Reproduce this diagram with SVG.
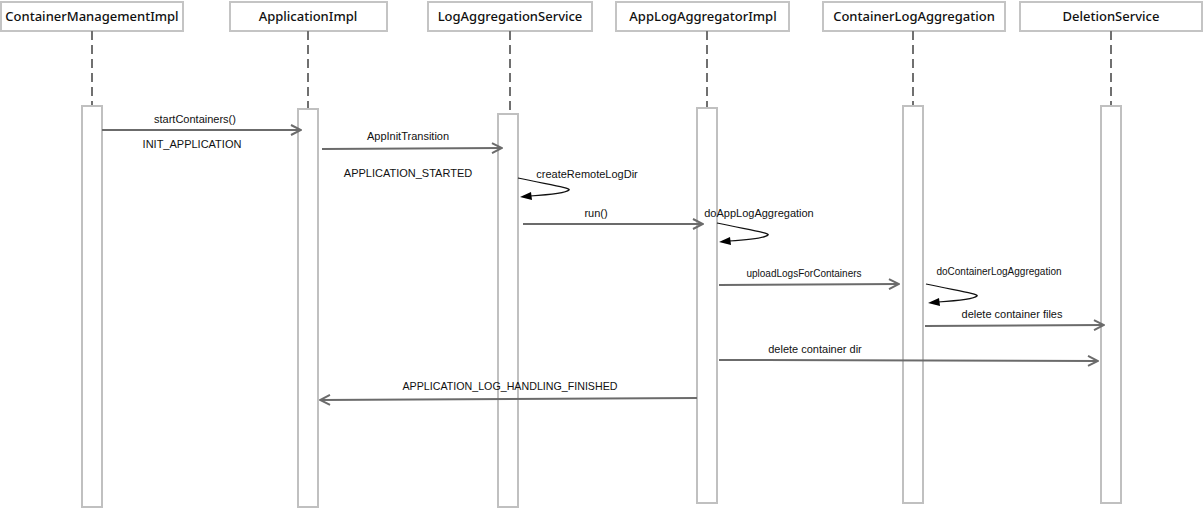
<svg xmlns="http://www.w3.org/2000/svg" width="1203" height="509" viewBox="0 0 1203 509">
<style>
.hdr{fill:#fff;stroke:#c4c4c4;stroke-width:2}
.ht{font-family:"Noto Sans","Open Sans",sans-serif;font-weight:500;font-size:13px;fill:#111;text-anchor:middle}
.life{stroke:#707070;stroke-width:2;stroke-dasharray:9 5}
.act{fill:#fff;stroke:#c0c0c0;stroke-width:2}
.msg{stroke:#6b6b6b;stroke-width:2;fill:none}
.self{stroke:#111;stroke-width:1.2;fill:none}
.head{fill:#000}
.lbl{font-family:"Liberation Sans",Arial,sans-serif;font-size:11px;fill:#111;text-anchor:middle}
.sm{font-size:10px}
</style>
<defs>
<marker id="open" viewBox="0 0 12 12" refX="11" refY="6" markerWidth="12" markerHeight="12" markerUnits="userSpaceOnUse" orient="auto">
<path d="M1,1 L11,6 L1,11" fill="none" stroke="#6b6b6b" stroke-width="2"/>
</marker>
</defs>

<g id="ContainerManagementImpl">
<rect class="hdr" x="1" y="2" width="182" height="29"/>
<text class="ht" x="92" y="21">ContainerManagementImpl</text>
<line class="life" x1="92" y1="31" x2="92" y2="105"/>
<rect class="act" x="82" y="106" width="20" height="401"/>
</g>
<g id="ApplicationImpl">
<rect class="hdr" x="230" y="2" width="157" height="29"/>
<text class="ht" x="308" y="21">ApplicationImpl</text>
<line class="life" x1="308" y1="31" x2="308" y2="108"/>
<rect class="act" x="298" y="109" width="20" height="398"/>
</g>
<g id="LogAggregationService">
<rect class="hdr" x="428" y="2" width="164" height="29"/>
<text class="ht" x="510" y="21">LogAggregationService</text>
<line class="life" x1="510" y1="31" x2="510" y2="113"/>
<rect class="act" x="498" y="114" width="20" height="393"/>
</g>
<g id="AppLogAggregatorImpl">
<rect class="hdr" x="616" y="2" width="173" height="29"/>
<text class="ht" x="703" y="21">AppLogAggregatorImpl</text>
<line class="life" x1="707" y1="31" x2="707" y2="107"/>
<rect class="act" x="697" y="108" width="20" height="395"/>
</g>
<g id="ContainerLogAggregation">
<rect class="hdr" x="823" y="2" width="182" height="29"/>
<text class="ht" x="914" y="21">ContainerLogAggregation</text>
<line class="life" x1="913" y1="31" x2="913" y2="105"/>
<rect class="act" x="903" y="106" width="20" height="397"/>
</g>
<g id="DeletionService">
<rect class="hdr" x="1020" y="2" width="182" height="29"/>
<text class="ht" x="1111" y="21">DeletionService</text>
<line class="life" x1="1111" y1="31" x2="1111" y2="105"/>
<rect class="act" x="1101" y="106" width="20" height="397"/>
</g>

<g id="connectors">
<line class="msg" x1="102" y1="130" x2="301" y2="130" marker-end="url(#open)"/>
<line class="msg" x1="322" y1="149" x2="502" y2="148" marker-end="url(#open)"/>
<path class="self" d="M518,178 C545,184 572,188 569,190 C566,193 545,195 530,196"/>
<path class="head" d="M520,197 L531,192 L532,200 Z"/>
<line class="msg" x1="523" y1="224" x2="703" y2="224" marker-end="url(#open)"/>
<path class="self" d="M717,223 C744,229 771,233 768,235 C765,238 744,240 729,241"/>
<path class="head" d="M719,242 L730,237 L731,245 Z"/>
<line class="msg" x1="719" y1="285" x2="899" y2="284" marker-end="url(#open)"/>
<path class="self" d="M926,284 C953,290 980,294 977,296 C974,299 953,301 938,302"/>
<path class="head" d="M928,303 L939,298 L940,306 Z"/>
<line class="msg" x1="925" y1="326" x2="1104" y2="325" marker-end="url(#open)"/>
<line class="msg" x1="719" y1="360" x2="1098" y2="361" marker-end="url(#open)"/>
<line class="msg" x1="697" y1="398" x2="320" y2="400" marker-end="url(#open)"/>
</g>

<g id="labels">
<text class="lbl" x="195" y="123">startContainers()</text>
<text class="lbl" x="192" y="148">INIT_APPLICATION</text>
<text class="lbl" x="408" y="140">AppInitTransition</text>
<text class="lbl" x="408" y="177">APPLICATION_STARTED</text>
<text class="lbl" x="587" y="178">createRemoteLogDir</text>
<text class="lbl" x="596" y="217">run()</text>
<text class="lbl" x="759" y="217">doAppLogAggregation</text>
<text class="lbl sm" x="804" y="277">uploadLogsForContainers</text>
<text class="lbl sm" x="999" y="275">doContainerLogAggregation</text>
<text class="lbl" x="1012" y="318">delete container files</text>
<text class="lbl" x="815" y="353">delete container dir</text>
<text class="lbl" x="510" y="390" textLength="215" lengthAdjust="spacingAndGlyphs">APPLICATION_LOG_HANDLING_FINISHED</text>
</g>
</svg>
